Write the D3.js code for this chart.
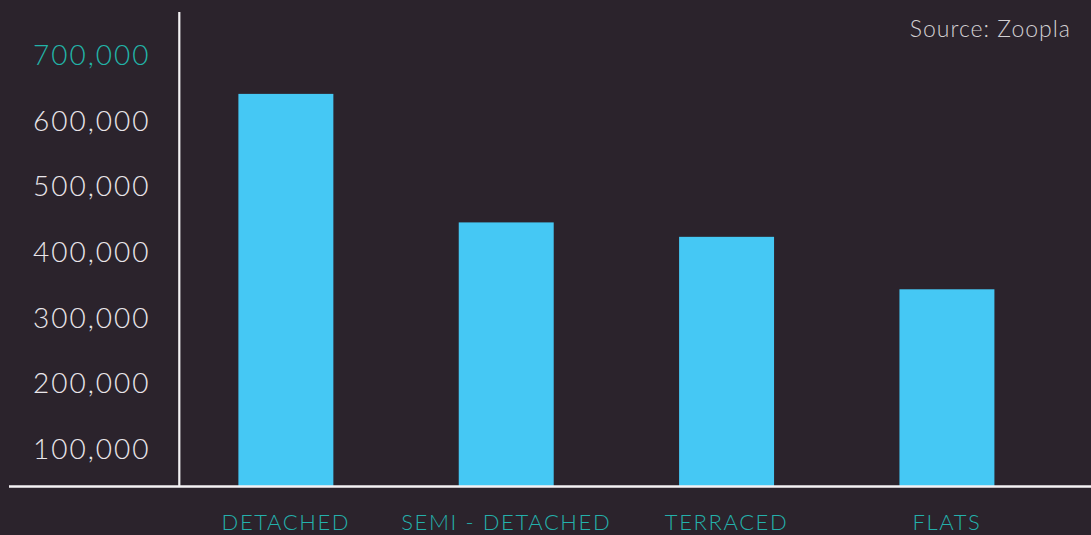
<!DOCTYPE html>
<html>
<head>
<meta charset="utf-8">
<script src="https://cdn.jsdelivr.net/npm/d3@7"></script>
<style>
  html, body { margin: 0; padding: 0; background: #2b232c; overflow: hidden; }
  svg { display: block; }
</style>
</head>
<body>
<svg id="chart" width="1091" height="535"></svg>
<script>
// Average asking price by property type
const categories = ["DETACHED", "SEMI - DETACHED", "TERRACED", "FLATS"];
const prices = [641000, 445000, 423000, 343000];
const tickValues = [100000, 200000, 300000, 400000, 500000, 600000, 700000];
const sourceText = "Source: Zoopla";

const W = 1091, H = 535;
const baseY = 486.5;     // x-axis line
const axisX = 179.3;     // y-axis line

const svg = d3.select("#chart");
svg.append("rect").attr("width", W).attr("height", H).attr("fill", "#2b232c");

const x = d3.scaleBand()
  .domain(categories)
  .range([175.7, 1057.1])
  .paddingInner(0.569)
  .paddingOuter(0.2845);

const y = d3.scaleLinear()
  .domain([0, 700000])
  .range([514.2, 55.2]);

// bars
svg.append("g").selectAll("rect")
  .data(categories)
  .join("rect")
  .attr("x", (d) => x(d))
  .attr("width", x.bandwidth())
  .attr("y", (d, i) => y(prices[i]))
  .attr("height", (d, i) => baseY - y(prices[i]))
  .attr("fill", "#45c8f4");

// y tick labels (left aligned)
const fmt = d3.format(",");
svg.append("g").selectAll("text")
  .data(tickValues)
  .join("text")
  .attr("x", 33)
  .attr("y", (d) => y(d))
  .attr("dy", "0.36em")
  .attr("font-family", "Lato, 'Open Sans', sans-serif")
  .attr("font-weight", 300)
  .attr("font-size", 28)
  .attr("letter-spacing", 2)
  .attr("fill", (d) => d === 700000 ? "#22b3a8" : "#e9e6ea")
  .text((d) => fmt(d));

// axis lines
svg.append("line")
  .attr("x1", axisX).attr("x2", axisX)
  .attr("y1", 12).attr("y2", baseY)
  .attr("stroke", "#f4f2f4").attr("stroke-width", 2.2);
svg.append("line")
  .attr("x1", 9).attr("x2", W)
  .attr("y1", baseY).attr("y2", baseY)
  .attr("stroke", "#f4f2f4").attr("stroke-width", 2.4);

// category labels
svg.append("g").selectAll("text")
  .data(categories)
  .join("text")
  .attr("x", (d) => x(d) + x.bandwidth() / 2)
  .attr("y", 530)
  .attr("text-anchor", "middle")
  .attr("font-family", "Lato, 'Open Sans', sans-serif")
  .attr("font-weight", 300)
  .attr("font-size", 22)
  .attr("letter-spacing", 1.6)
  .attr("fill", "#24b0ab")
  .text((d) => d);

// source note
svg.append("text")
  .attr("x", 1071)
  .attr("y", 37)
  .attr("text-anchor", "end")
  .attr("font-family", "Lato, 'Open Sans', sans-serif")
  .attr("font-weight", 300)
  .attr("font-size", 23)
  .attr("letter-spacing", 1)
  .attr("fill", "#d2cfd2")
  .text(sourceText);
</script>
</body>
</html>
